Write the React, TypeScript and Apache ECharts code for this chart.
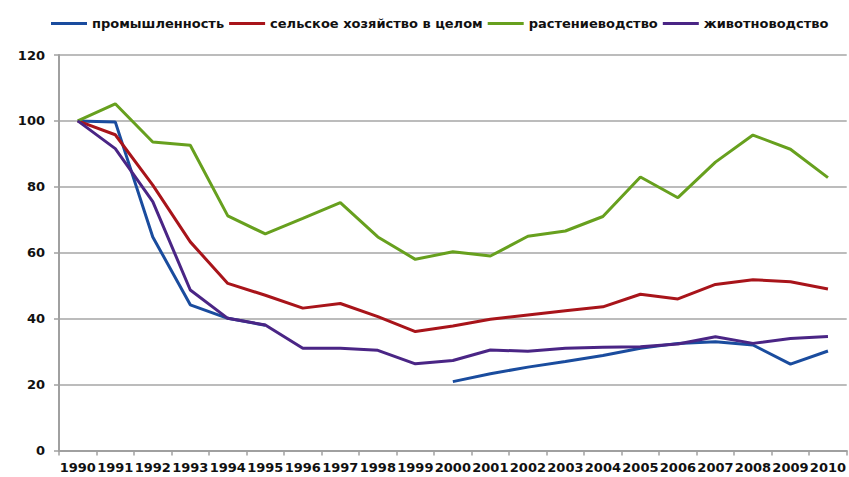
import React, { useEffect, useRef } from "react";
import * as echarts from "echarts";

const years = ["1990","1991","1992","1993","1994","1995","1996","1997","1998","1999","2000","2001","2002","2003","2004","2005","2006","2007","2008","2009","2010"];
const industry: (number | null)[] = [100, 99.7, 64.8, 44.2, 40.1, 38, null, null, null, null, 20.9, 23.3, 25.3, 27, 28.8, 31, 32.5, 33, 32, 26.2, 30.2];
const agriculture = [100, 95.8, 80.5, 63.3, 50.7, 47.1, 43.2, 44.6, 40.6, 36.1, 37.8, 39.8, 41.1, 42.4, 43.6, 47.4, 46, 50.4, 51.8, 51.2, 49];
const crops = [100, 105.2, 93.6, 92.6, 71.2, 65.7, 70.4, 75.2, 64.8, 58, 60.3, 59, 65, 66.6, 71, 83, 76.7, 87.5, 95.7, 91.4, 82.8];
const livestock = [100, 91.6, 75.5, 48.7, 40.1, 38.1, 31, 31, 30.4, 26.3, 27.3, 30.5, 30.1, 31, 31.3, 31.5, 32.3, 34.5, 32.5, 34, 34.6];
const seriesNames = ["промышленность", "сельское хозяйство в целом", "растениеводство", "животноводство"];
const colors = ["#1a4c9e", "#a8141a", "#67a01e", "#4a2585"];

export default function App() {
  const ref = useRef<HTMLDivElement>(null);
  useEffect(() => {
    if (!ref.current) return;
    const chart = echarts.init(ref.current, null, { renderer: "svg" });
    const data = [industry, agriculture, crops, livestock];
    chart.setOption({
      animation: false,
      backgroundColor: "#ffffff",
      color: colors,
      legend: {
        top: 12,
        left: 46,
        icon: "rect",
        itemWidth: 36,
        itemHeight: 3,
        itemGap: 5,
        textStyle: { fontFamily: "DejaVu Sans", fontWeight: "bold", fontSize: 13, color: "#111" },
        data: seriesNames,
      },
      grid: { left: 59, right: 0, top: 55, bottom: 26.5, containLabel: false },
      xAxis: {
        type: "category",
        data: years,
        boundaryGap: true,
        axisLine: { lineStyle: { color: "#a0a0a0", width: 2 } },
        axisTick: { show: true, length: 5, lineStyle: { color: "#a0a0a0", width: 1.5 } },
        axisLabel: { interval: 0, fontFamily: "DejaVu Sans", fontWeight: "bold", fontSize: 13, color: "#111", margin: 10 },
      },
      yAxis: {
        type: "value",
        min: 0,
        max: 120,
        interval: 20,
        axisLine: { show: true, lineStyle: { color: "#a0a0a0", width: 2 } },
        axisTick: { show: true, length: 5, lineStyle: { color: "#a0a0a0", width: 1.5 } },
        splitLine: { lineStyle: { color: "#a6a6a6", width: 1.5 } },
        axisLabel: { fontFamily: "DejaVu Sans", fontWeight: "bold", fontSize: 13, color: "#111", margin: 14 },
      },
      series: seriesNames.map((name, i) => ({
        name,
        type: "line",
        data: data[i],
        showSymbol: false,
        symbol: "none",
        connectNulls: false,
        lineStyle: { width: 3, color: colors[i] },
        itemStyle: { color: colors[i] },
        z: 2 + i,
      })),
    });
    return () => chart.dispose();
  }, []);
  return <div ref={ref} style={{ position: "fixed", left: 0, top: 0, width: 849, height: 477 }} />;
}
